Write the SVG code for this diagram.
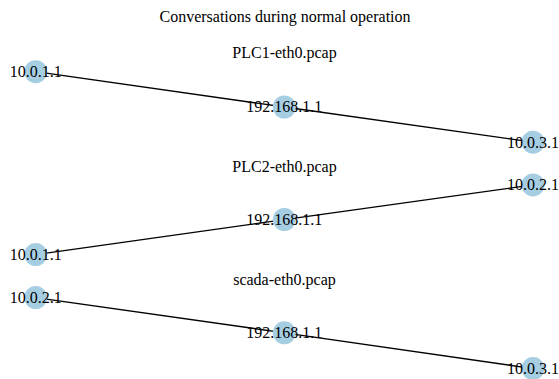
<svg xmlns="http://www.w3.org/2000/svg" width="559" height="379" viewBox="0 0 559 379">
  <style>
    text { font-family: "Liberation Serif", "Times New Roman", serif; font-size: 16px; fill: #000; text-anchor: middle; }
    .node circle { fill: #a6cee3; }
    .edges line { stroke: #000; stroke-width: 1.33; }
  </style>
  <rect width="559" height="379" fill="#fff"/>

  <text x="285" y="21.7">Conversations during normal operation</text>

  <!-- panel titles -->
  <text x="284.5" y="57.5">PLC1-eth0.pcap</text>
  <text x="284.5" y="171.5">PLC2-eth0.pcap</text>
  <text x="284.5" y="285">scada-eth0.pcap</text>

  <g id="connectors" class="edges">
    <line x1="35.7" y1="71.7" x2="284.3" y2="107"/>
    <line x1="284.3" y1="107" x2="533" y2="142.2"/>
    <line x1="533" y1="184.9" x2="284.3" y2="219.6"/>
    <line x1="284.3" y1="219.6" x2="35.7" y2="254.6"/>
    <line x1="35.7" y1="297.6" x2="284.3" y2="332.8"/>
    <line x1="284.3" y1="332.8" x2="533" y2="368.6"/>
  </g>

  <!-- PLC1-eth0.pcap -->
  <g id="plc1-10.0.1.1" class="node">
    <circle cx="35.7" cy="71.7" r="11.5"/>
    <text x="35.7" y="77">10.0.1.1</text>
  </g>
  <g id="plc1-192.168.1.1" class="node">
    <circle cx="284.3" cy="107" r="11.5"/>
    <text x="284.3" y="112.3">192.168.1.1</text>
  </g>
  <g id="plc1-10.0.3.1" class="node">
    <circle cx="533" cy="142.2" r="11.5"/>
    <text x="533" y="147.5">10.0.3.1</text>
  </g>

  <!-- PLC2-eth0.pcap -->
  <g id="plc2-10.0.2.1" class="node">
    <circle cx="533" cy="184.9" r="11.5"/>
    <text x="533" y="190.2">10.0.2.1</text>
  </g>
  <g id="plc2-192.168.1.1" class="node">
    <circle cx="284.3" cy="219.6" r="11.5"/>
    <text x="284.3" y="224.9">192.168.1.1</text>
  </g>
  <g id="plc2-10.0.1.1" class="node">
    <circle cx="35.7" cy="254.6" r="11.5"/>
    <text x="35.7" y="259.9">10.0.1.1</text>
  </g>

  <!-- scada-eth0.pcap -->
  <g id="scada-10.0.2.1" class="node">
    <circle cx="35.7" cy="297.6" r="11.5"/>
    <text x="35.7" y="302.9">10.0.2.1</text>
  </g>
  <g id="scada-192.168.1.1" class="node">
    <circle cx="284.3" cy="332.8" r="11.5"/>
    <text x="284.3" y="338.1">192.168.1.1</text>
  </g>
  <g id="scada-10.0.3.1" class="node">
    <circle cx="533" cy="368.6" r="11.5"/>
    <text x="533" y="373.9">10.0.3.1</text>
  </g>
</svg>
